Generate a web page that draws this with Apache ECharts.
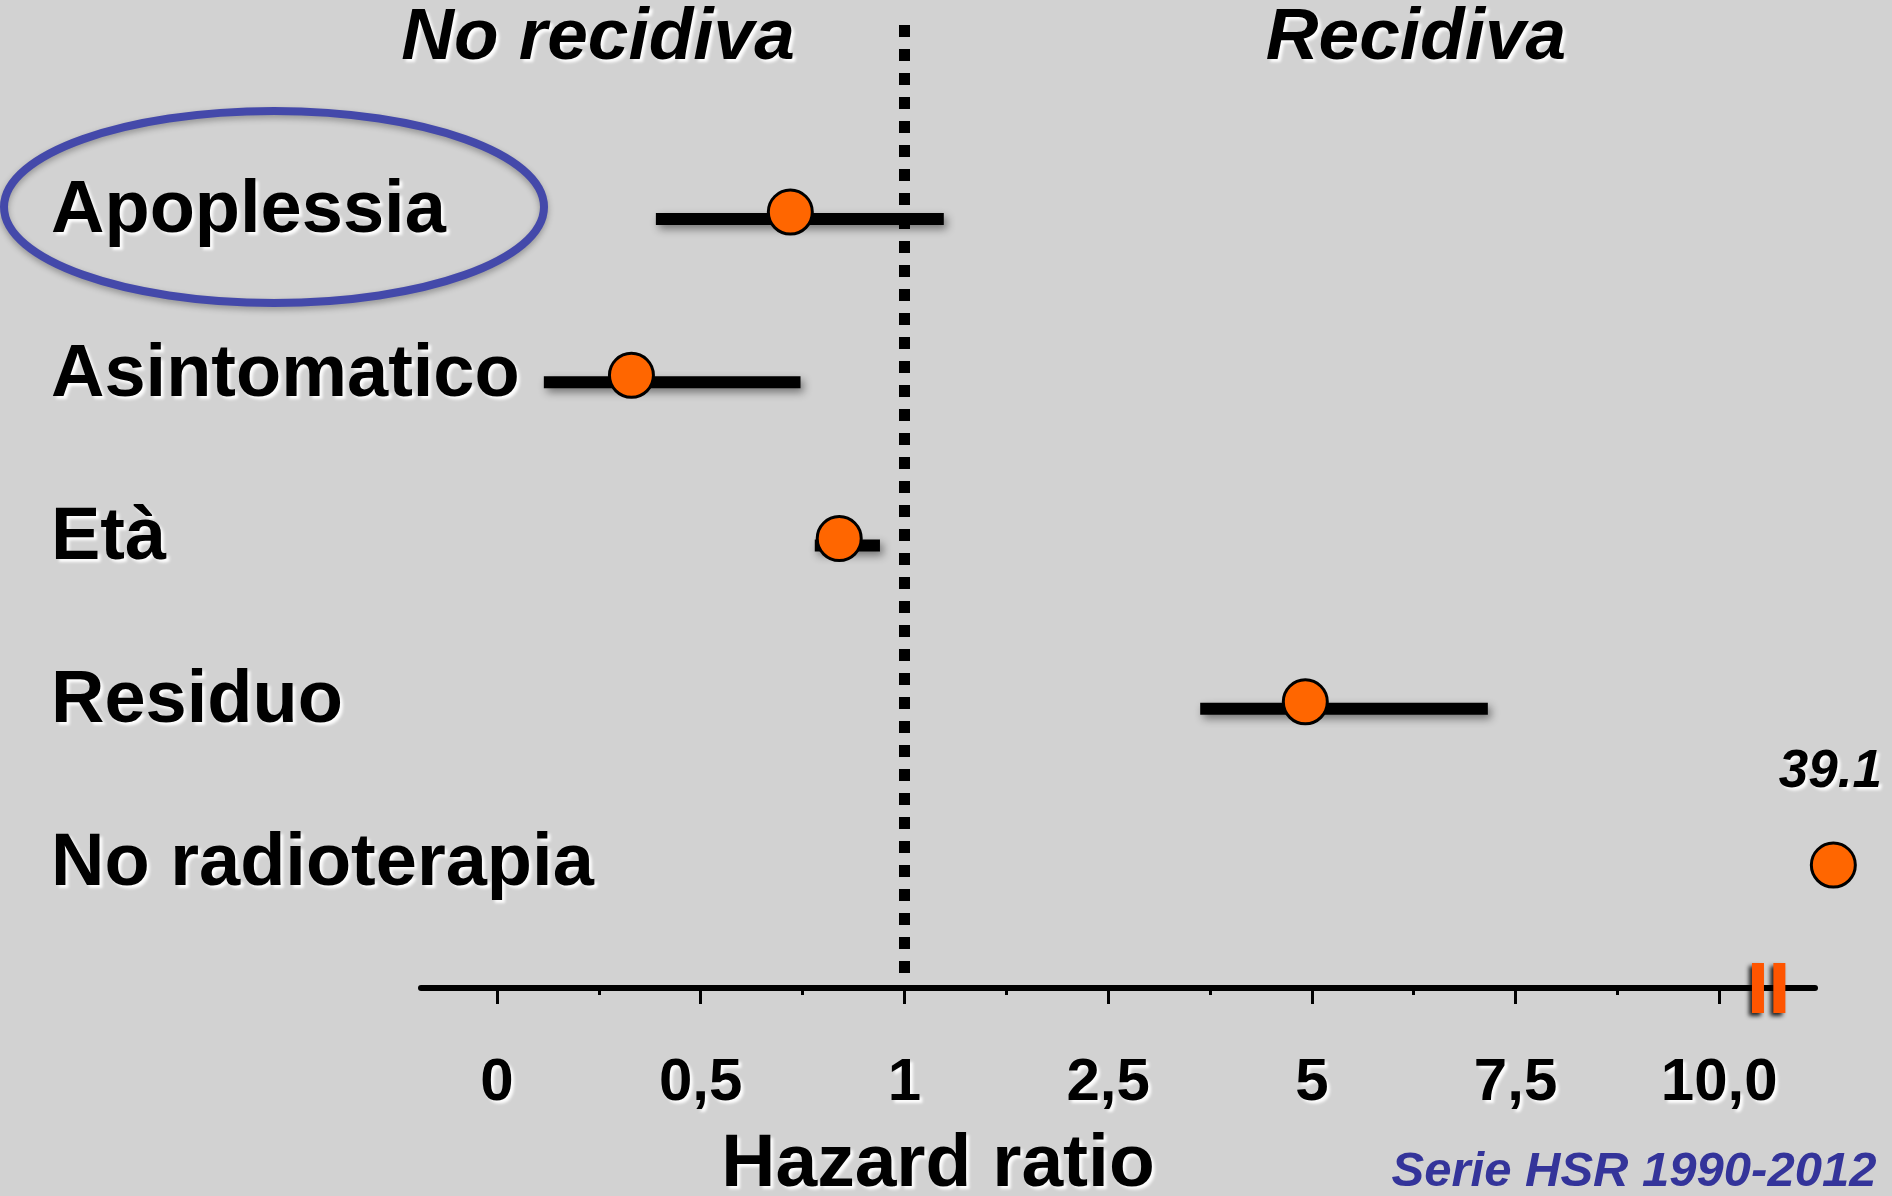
<!DOCTYPE html>
<html>
<head>
<meta charset="utf-8">
<script src="https://cdn.jsdelivr.net/npm/echarts@6/dist/echarts.min.js"></script>
<style>
html,body{margin:0;padding:0;background:#d2d2d2;}
#chart{width:1892px;height:1196px;}
</style>
</head>
<body>
<div id="chart"></div>
<script>
// ---- data ----
const categories = ['Apoplessia', 'Asintomatico', 'Età', 'Residuo', 'No radioterapia'];
const hazardRatio = [0.72, 0.33, 0.84, 4.92, 39.1];
const ciLower = [0.39, 0.115, 0.78, 3.63, null];
const ciUpper = [1.29, 0.745, 0.94, 7.16, null];
const tickValues = [0, 0.5, 1, 2.5, 5, 7.5, 10];
const tickLabels = ['0', '0,5', '1', '2,5', '5', '7,5', '10,0'];
const referenceHR = 1;
const sideLabels = ['No recidiva', 'Recidiva'];
const axisTitle = 'Hazard ratio';
const sourceNote = 'Serie HSR 1990-2012';

// ---- scale helpers (axis is piecewise linear: equal spacing between tick values) ----
const OVERFLOW_POS = 6.56;          // where off-scale values (beyond the break) are drawn
const BREAK_POS = [6.19, 6.295];    // axis break marks
function hrToPos(v) {
  const n = tickValues.length;
  if (v > tickValues[n - 1]) return OVERFLOW_POS;
  for (let i = 0; i < n - 1; i++) {
    if (v <= tickValues[i + 1]) {
      return i + (v - tickValues[i]) / (tickValues[i + 1] - tickValues[i]);
    }
  }
  return n - 1;
}
const majorPos = tickValues.map((_, i) => i);
const minorPos = tickValues.slice(1).map((_, i) => i + 0.5);

const FONT = "'Liberation Sans', Arial, Helvetica, sans-serif";
const whiteShadow = {textShadowColor: 'rgba(255,255,255,0.95)', textShadowBlur: 3, textShadowOffsetX: 3, textShadowOffsetY: 3};

const xMin = -0.373, xMax = 6.47;
const yMin = -1.1455, yMax = 4.753;

const pointData = hazardRatio.map((hr, i) => {
  const item = {value: [hrToPos(hr), i, hr]};
  if (hr > tickValues[tickValues.length - 1]) {
    item.label = {
      show: true, position: 'top', distance: 43, offset: [-3, 0],
      formatter: p => String(p.value[2]),
      fontFamily: FONT, fontSize: 53, fontWeight: 'bold', fontStyle: 'italic', color: '#000',
      ...whiteShadow
    };
  }
  return item;
});
const ciData = [];
categories.forEach((c, i) => {
  if (ciLower[i] != null && ciUpper[i] != null) ciData.push([hrToPos(ciLower[i]), hrToPos(ciUpper[i]), i]);
});

const chart = echarts.init(document.getElementById('chart'));
chart.setOption({
  backgroundColor: '#d2d2d2',
  animation: false,
  grid: {left: 421, right: 77, top: 25, bottom: 208},
  xAxis: [{
    type: 'value', min: xMin, max: xMax, position: 'bottom',
    axisLine: {show: true, onZero: false, lineStyle: {color: '#000', width: 6}},
    axisTick: {show: true, customValues: majorPos, length: 16, lineStyle: {color: '#000', width: 3}},
    axisLabel: {
      show: true, customValues: majorPos, margin: 65,
      formatter: v => tickLabels[Math.round(v)],
      fontFamily: FONT, fontSize: 60, fontWeight: 'bold', color: '#000', ...whiteShadow
    },
    splitLine: {show: false}
  }, {
    type: 'value', min: xMin, max: xMax, position: 'bottom', offset: 0,
    axisLine: {show: false, onZero: false},
    axisTick: {show: true, customValues: minorPos, length: 7, lineStyle: {color: '#000', width: 3}},
    axisLabel: {show: false},
    splitLine: {show: false}
  }],
  yAxis: {
    type: 'value', inverse: true, min: yMin, max: yMax,
    axisLine: {show: false, onZero: false}, axisTick: {show: false}, splitLine: {show: false},
    axisLabel: {
      show: true, customValues: categories.map((_, i) => i), align: 'left', margin: 370,
      formatter: v => categories[Math.round(v)],
      fontFamily: FONT, fontSize: 74, fontWeight: 'bold', color: '#000', ...whiteShadow
    }
  },
  series: [{
    type: 'scatter', data: [], z: 1, silent: true,
    markLine: {
      silent: true, symbol: 'none', label: {show: false}, animation: false,
      lineStyle: {color: '#000', width: 11, type: [12, 12]},
      data: [{xAxis: hrToPos(referenceHR)}]
    }
  }, {
    type: 'custom', z: 3, silent: true, clip: false,
    renderItem: (params, api) => {
      const a = api.coord([api.value(0), api.value(2)]);
      const b = api.coord([api.value(1), api.value(2)]);
      return {
        type: 'line',
        shape: {x1: a[0], y1: a[1] + 7, x2: b[0], y2: b[1] + 7},
        style: {stroke: '#000', lineWidth: 12, lineCap: 'butt',
          shadowColor: 'rgba(0,0,0,0.45)', shadowBlur: 8, shadowOffsetX: 3, shadowOffsetY: 4}
      };
    },
    encode: {x: [0, 1], y: 2},
    data: ciData
  }, {
    type: 'scatter', z: 5, silent: true, clip: false,
    symbol: 'circle', symbolSize: 44,
    itemStyle: {color: '#ff6600', borderColor: '#000', borderWidth: 3, opacity: 1},
    data: pointData
  }, {
    type: 'scatter', z: 6, silent: true, clip: false,
    symbol: 'rect', symbolSize: [12, 50],
    itemStyle: {color: '#ff5500', opacity: 1, shadowColor: 'rgba(0,0,0,0.85)', shadowBlur: 4, shadowOffsetX: -3, shadowOffsetY: 3},
    data: BREAK_POS.map(p => [p, yMax])
  }],
  graphic: [
    {type: 'ellipse', z: 10, silent: true,
      shape: {cx: 274, cy: 207, rx: 270, ry: 96},
      style: {fill: 'none', stroke: '#4449aa', lineWidth: 8, shadowColor: 'rgba(0,0,0,0.3)', shadowBlur: 6, shadowOffsetY: 3}},
    {type: 'text', z: 10, silent: true, x: 598, y: 39,
      style: {text: sideLabels[0], fontFamily: FONT, fontSize: 73, fontWeight: 'bold', fontStyle: 'italic', fill: '#000', align: 'center', verticalAlign: 'middle', ...whiteShadow}},
    {type: 'text', z: 10, silent: true, x: 1416, y: 39,
      style: {text: sideLabels[1], fontFamily: FONT, fontSize: 73, fontWeight: 'bold', fontStyle: 'italic', fill: '#000', align: 'center', verticalAlign: 'middle', ...whiteShadow}},
    {type: 'text', z: 10, silent: true, x: 938, y: 1165,
      style: {text: axisTitle, fontFamily: FONT, fontSize: 75, fontWeight: 'bold', fill: '#000', align: 'center', verticalAlign: 'middle', ...whiteShadow}},
    {type: 'text', z: 10, silent: true, x: 1634, y: 1172,
      style: {text: sourceNote, fontFamily: FONT, fontSize: 49, fontWeight: 'bold', fontStyle: 'italic', fill: '#34349a', align: 'center', verticalAlign: 'middle'}}
  ]
});
</script>
</body>
</html>
